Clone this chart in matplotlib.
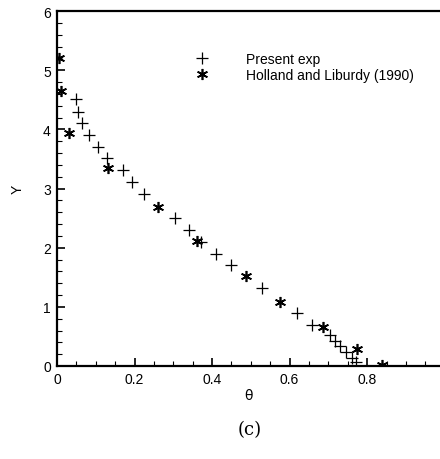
import numpy as np
import matplotlib.pyplot as plt
from matplotlib.ticker import MultipleLocator

# Present exp (plus markers)
theta_exp = [0.049, 0.053, 0.065, 0.082, 0.107, 0.130, 0.169, 0.194, 0.225,
             0.305, 0.341, 0.372, 0.409, 0.448, 0.529, 0.618, 0.657,
             0.705, 0.716, 0.730, 0.745, 0.760, 0.772]
y_exp = [4.51, 4.30, 4.10, 3.90, 3.70, 3.51, 3.31, 3.11, 2.91,
         2.50, 2.30, 2.10, 1.90, 1.70, 1.31, 0.90, 0.70,
         0.52, 0.42, 0.33, 0.23, 0.14, 0.06]

# Holland and Liburdy (1990) (asterisk markers)
theta_hl = [0.004, 0.011, 0.032, 0.131, 0.261, 0.361, 0.487, 0.575, 0.687, 0.775, 0.839]
y_hl = [5.21, 4.64, 3.93, 3.34, 2.69, 2.11, 1.52, 1.08, 0.66, 0.28, 0.02]

plt.rcParams['font.family'] = ['Liberation Sans', 'DejaVu Sans']

fig = plt.figure(figsize=(4.4, 4.6), dpi=100)
ax = fig.add_axes([57 / 440, 93 / 460, 383 / 440, 355 / 460])

ax.plot(theta_exp, y_exp, ls='none', marker='+', ms=8, mew=0.9, color='black',
        label='Present exp')
ax.plot(theta_hl, y_hl, ls='none', marker=(6, 2, 0), ms=8, mew=1.2, color='black',
        label='Holland and Liburdy (1990)')

ax.set_xlim(0, 0.988)
ax.set_ylim(0, 6)
ax.xaxis.set_major_locator(MultipleLocator(0.2))
ax.xaxis.set_minor_locator(MultipleLocator(0.05))
ax.yaxis.set_major_locator(MultipleLocator(1))
ax.yaxis.set_minor_locator(MultipleLocator(0.2))
ax.set_xticks([0, 0.2, 0.4, 0.6, 0.8])
ax.set_xticklabels(['0', '0.2', '0.4', '0.6', '0.8'])

ax.tick_params(which='both', direction='in', top=False, right=False, labelsize=10)
ax.tick_params(which='major', length=6, width=1.2, pad=4.5)
ax.tick_params(which='minor', length=3.5, width=0.8)
for s in ['left', 'bottom', 'top']:
    ax.spines[s].set_linewidth(1.6)
ax.spines['right'].set_visible(False)

ax.set_xlabel('θ', fontsize=10, labelpad=1, family=['DejaVu Sans'])
ax.set_ylabel('Y', fontsize=10, labelpad=13)

ax.legend(loc='upper left', bbox_to_anchor=(0.327, 0.901), frameon=False, fontsize=10,
          handlelength=2, handletextpad=2.2, labelspacing=0.15, numpoints=1,
          borderaxespad=0)

fig.text(250 / 440, 1 - 430 / 460, '(c)', ha='center', va='center', fontsize=13,
         family=['DejaVu Serif'])

fig.savefig('out.png', dpi=100)
